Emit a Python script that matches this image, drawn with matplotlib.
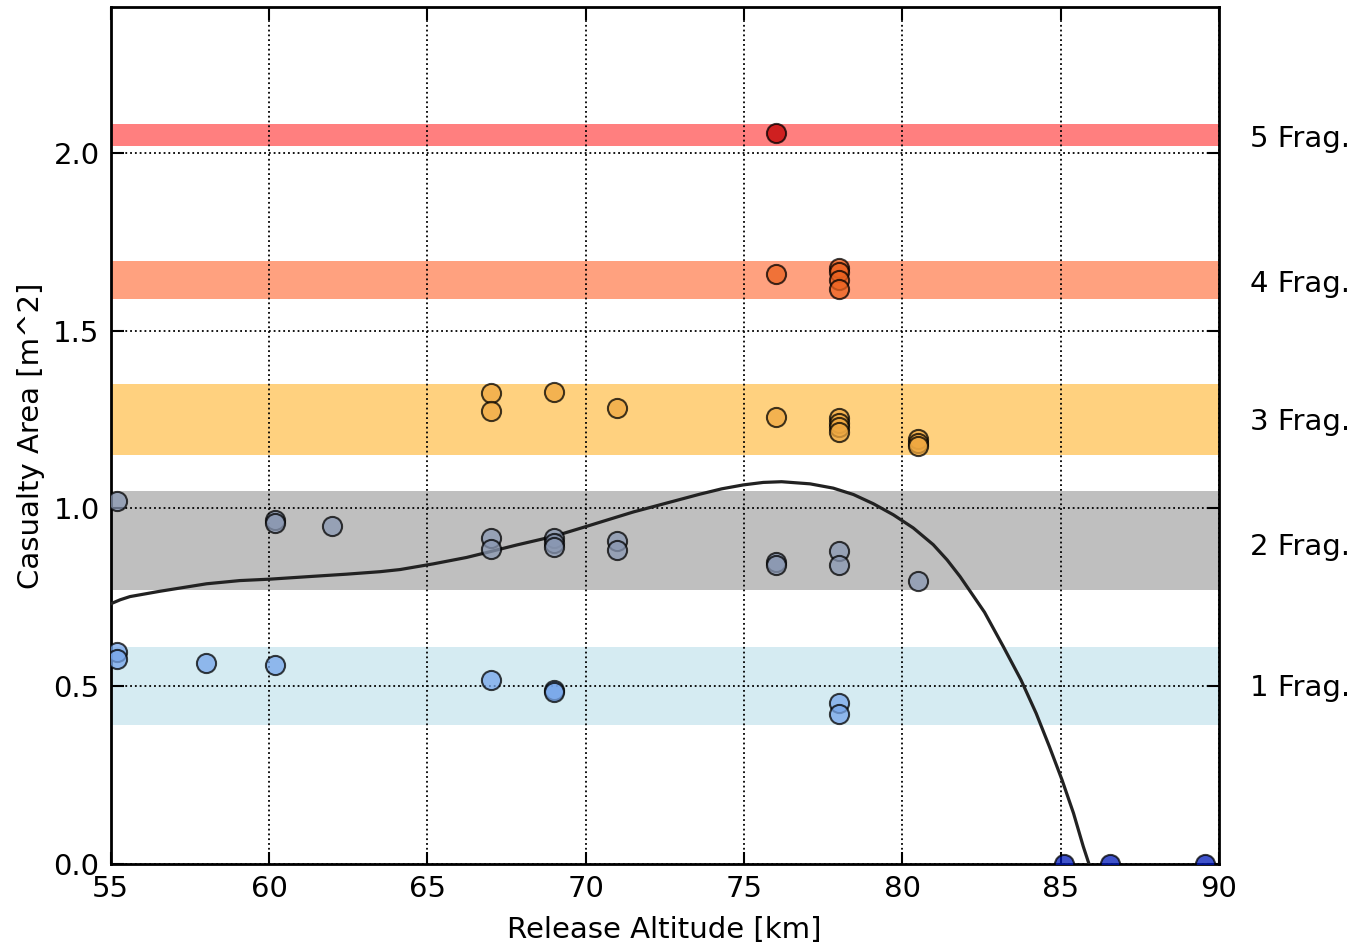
import matplotlib
matplotlib.use("Agg")
import matplotlib.pyplot as plt

# fragment bands (low, high) and label position
band_lo = [0.39, 0.77, 1.15, 1.59, 2.02]
band_hi = [0.61, 1.05, 1.35, 1.695, 2.08]
band_col = ["lightblue", "gray", "orange", "orangered", "red"]
band_txt = ["1 Frag.", "2 Frag.", "3 Frag.", "4 Frag.", "5 Frag."]
band_mid = [0.494, 0.892, 1.242, 1.632, 2.04]

# measured points per fragment count
x0 = [85.1, 86.55, 89.55]
y0 = [0.0, 0.0, 0.0]
x1 = [55.2, 55.2, 58.0, 60.2, 67.0, 69.0, 69.0, 78.0, 78.0]
y1 = [0.595, 0.576, 0.565, 0.56, 0.518, 0.49, 0.485, 0.453, 0.422]
x2 = [55.2, 60.2, 60.2, 62.0, 67.0, 67.0, 69.0, 69.0, 69.0, 71.0, 71.0,
      76.0, 76.0, 78.0, 78.0, 80.5]
y2 = [1.022, 0.968, 0.959, 0.95, 0.917, 0.886, 0.917, 0.903, 0.892, 0.907,
      0.882, 0.848, 0.84, 0.879, 0.842, 0.795]
x3 = [67.0, 67.0, 69.0, 71.0, 76.0, 78.0, 78.0, 78.0, 78.0, 80.5, 80.5, 80.5]
y3 = [1.325, 1.275, 1.328, 1.281, 1.257, 1.255, 1.24, 1.228, 1.215, 1.195,
      1.185, 1.175]
x4 = [76.0, 78.0, 78.0, 78.0, 78.0]
y4 = [1.658, 1.675, 1.665, 1.643, 1.618]
x5 = [76.0]
y5 = [2.056]
pt_col = ["#0019ba", "#77a6ea", "#8997b2", "#efa841", "#ec6320", "#c00000"]

# fitted trend curve
fit_x = [55.01, 55.3, 55.61, 56.56, 57.19, 58.03, 59.08, 60.03, 61.40,
         62.45, 63.51, 64.14, 65.19, 66.24, 66.88, 67.82, 68.98, 69.98,
         70.67, 71.51, 72.56, 73.61, 74.30, 74.98, 75.61, 76.19, 77.09,
         77.82, 78.46, 79.09, 79.72, 80.35, 80.98, 81.42, 81.83, 82.2,
         82.6, 83.19, 83.75, 84.23, 84.65, 85.05, 85.41, 85.72, 85.93, 86.2]
fit_y = [0.732, 0.743, 0.752, 0.767, 0.776, 0.788, 0.797, 0.801, 0.809,
         0.815, 0.822, 0.828, 0.844, 0.862, 0.876, 0.897, 0.921, 0.948,
         0.967, 0.990, 1.015, 1.040, 1.055, 1.066, 1.073, 1.075, 1.069,
         1.057, 1.039, 1.013, 0.982, 0.945, 0.898, 0.855, 0.808, 0.760,
         0.708, 0.612, 0.518, 0.424, 0.330, 0.236, 0.143, 0.049, -0.008,
         -0.09]

fs = 21
fig = plt.figure(figsize=(13.58, 9.42), dpi=100)
ax = fig.add_axes([0.0815, 0.0828, 0.816, 0.9098])

for lo, hi, c in zip(band_lo, band_hi, band_col):
    ax.axhspan(lo, hi, color=c, alpha=0.5, lw=0, zorder=1)

ax.plot(fit_x, fit_y, color="#222222", lw=2.3, zorder=3)

xs = [x0, x1, x2, x3, x4, x5]
ys = [y0, y1, y2, y3, y4, y5]
for xx, yy, c in zip(xs, ys, pt_col):
    ax.scatter(xx, yy, s=190, color=c, edgecolor="black", linewidth=1.5,
               alpha=0.75, zorder=4, clip_on=True)

for t, m in zip(band_txt, band_mid):
    ax.text(1.028, m, t, transform=ax.get_yaxis_transform(), fontsize=fs,
            va="center", ha="left")

ax.set_xlim(55, 90)
ax.set_ylim(0, 2.41)
ax.set_xticks(range(55, 91, 5))
ax.set_yticks([0.0, 0.5, 1.0, 1.5, 2.0])
ax.set_yticklabels(["0.0", "0.5", "1.0", "1.5", "2.0"])
ax.grid(True, color="black", linestyle=":", linewidth=1.3, zorder=2)
ax.tick_params(direction="in", length=9, width=1.5, top=True, right=True,
               labelsize=fs, pad=8)
for s in ax.spines.values():
    s.set_linewidth(2)
ax.set_xlabel("Release Altitude [km]", fontsize=fs, labelpad=9)
ax.set_ylabel("Casualty Area [m^2]", fontsize=fs, labelpad=6)

fig.savefig("out.png", dpi=100)
